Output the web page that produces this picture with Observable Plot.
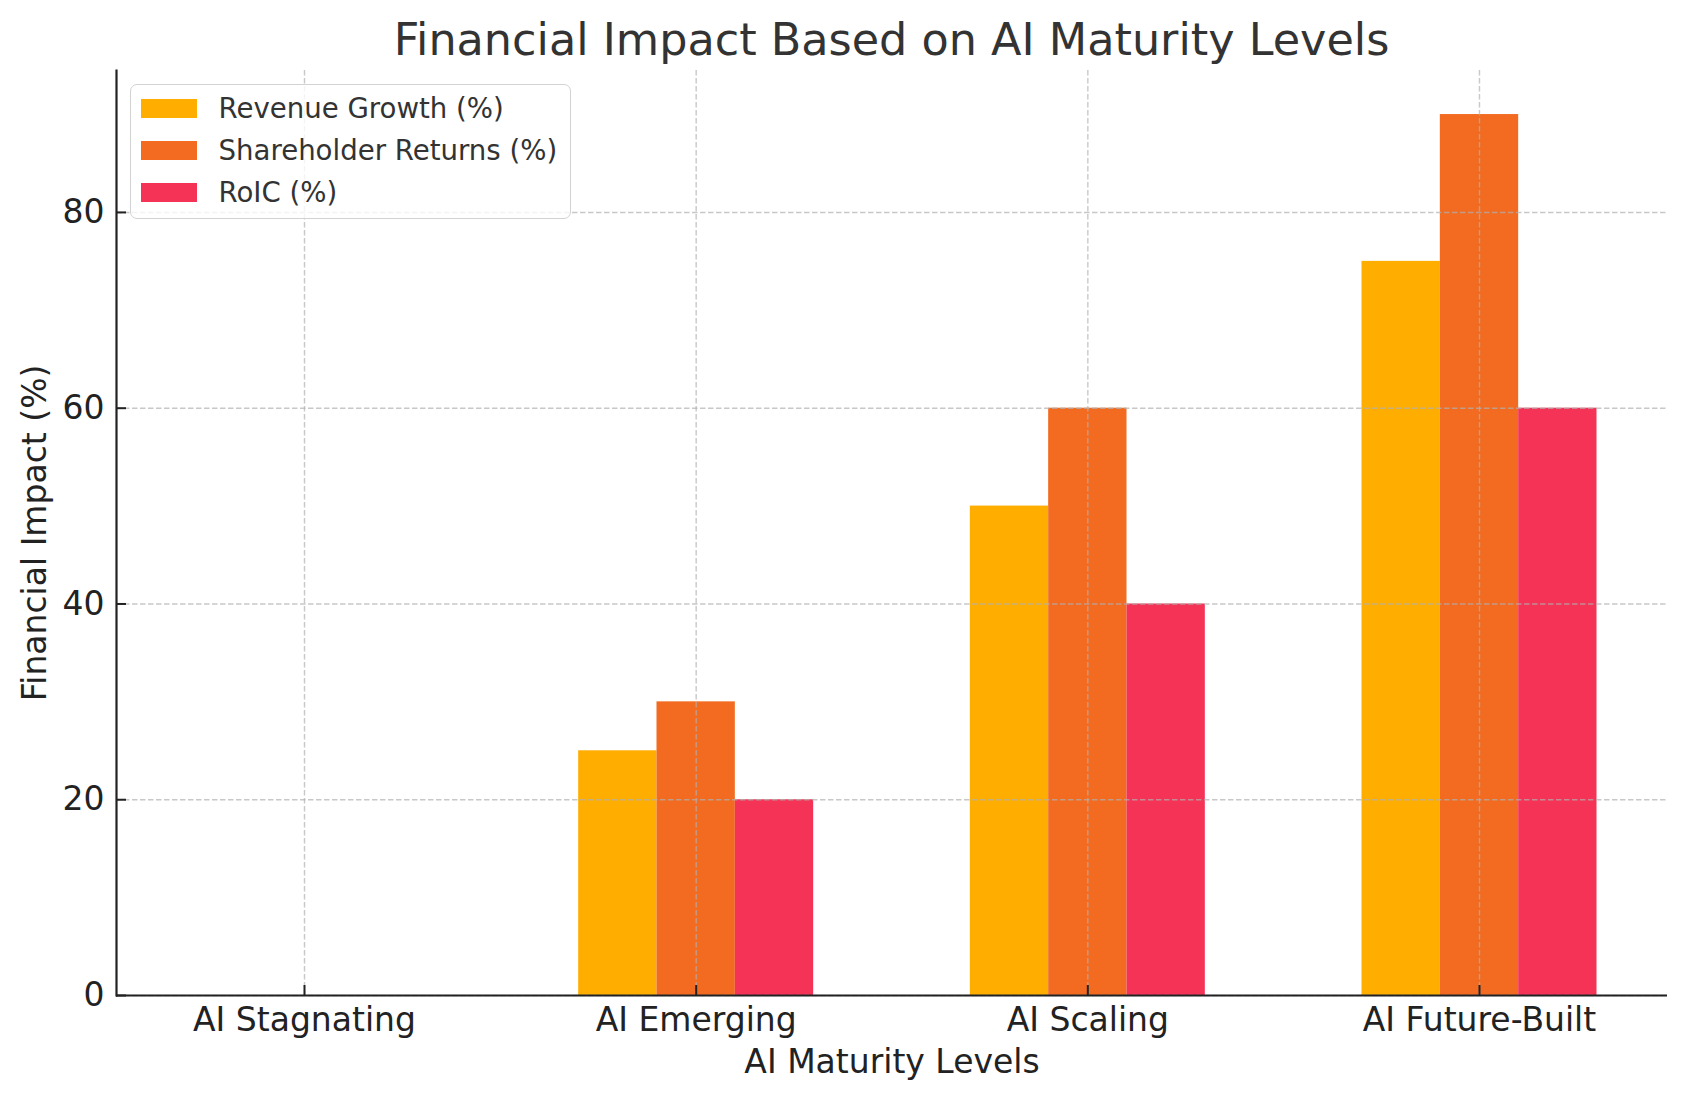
<!DOCTYPE html>
<html>
<head>
<meta charset="utf-8">
<script src="https://cdn.jsdelivr.net/npm/d3@7"></script>
<script src="https://cdn.jsdelivr.net/npm/@observablehq/plot@0.6"></script>
<style>
  body { margin: 0; background: #fff; font-family: "DejaVu Sans", sans-serif; }
  #wrap { position: relative; width: 1686px; height: 1101px; overflow: hidden; }
  #title { box-sizing: border-box; height: 60px; padding-top: 18px; padding-left: 116px; padding-right: 19px;
           line-height: 44px; font-size: 44.5px; color: #333; text-align: center; white-space: nowrap; overflow: visible; }
  #legend { position: absolute; left: 130px; top: 84px; width: 441px; height: 135px; box-sizing: border-box;
            border: 1.5px solid #d2d2d2; border-radius: 7px; background: rgba(255,255,255,0.8); }
  .item { position: absolute; left: 9.5px; height: 40px; display: flex; align-items: center; }
  .sw { width: 56px; height: 19px; flex: none; }
  .lab { margin-left: 22px; font-size: 27.6px; color: #333; white-space: nowrap; }
  svg { display: block; }
</style>
</head>
<body>
<div id="wrap">
  <div id="title"></div>
  <div id="chart"></div>
  <div id="legend"></div>
</div>
<script>
const chartTitle = "Financial Impact Based on AI Maturity Levels";
const xLabel = "AI Maturity Levels";
const yLabel = "Financial Impact (%)";
const categories = ["AI Stagnating", "AI Emerging", "AI Scaling", "AI Future-Built"];
const seriesNames = ["Revenue Growth (%)", "Shareholder Returns (%)", "RoIC (%)"];
const revenueGrowth = [0, 25, 50, 75];
const shareholderReturns = [0, 30, 60, 90];
const roic = [0, 20, 40, 60];
const seriesColors = ["#FFAE00", "#F26B21", "#F53357"];
const yTicks = [0, 20, 40, 60, 80];

const seriesValues = [revenueGrowth, shareholderReturns, roic];
const barWidth = 0.2;
const rows = [];
seriesValues.forEach((vals, j) => vals.forEach((v, i) =>
  rows.push({category: categories[i], ci: i, series: seriesNames[j], sj: j, value: v})));
const catIdx = categories.map((_, i) => i);

document.getElementById("title").textContent = chartTitle;

const gridStyle = {stroke: "#b0b0b0", strokeOpacity: 0.7, strokeWidth: 1.4, strokeDasharray: "5.5,2.5"};

const chart = Plot.plot({
  width: 1686, height: 1041,
  marginTop: 10, marginBottom: 106, marginLeft: 116, marginRight: 19,
  style: {fontFamily: "DejaVu Sans", color: "#222", background: "white", overflow: "visible"},
  x: {type: "linear", domain: [-0.48, 3.48]},
  y: {domain: [0, 94.5]},
  color: {domain: seriesNames, range: seriesColors},
  marks: [
    Plot.rectY(rows, {
      x1: d => d.ci + (d.sj - 1) * barWidth - barWidth / 2,
      x2: d => d.ci + (d.sj - 1) * barWidth + barWidth / 2,
      y1: 0, y2: "value", fill: "series"
    }),
    Plot.gridX({ticks: catIdx, ...gridStyle}),
    Plot.gridY({ticks: yTicks, ...gridStyle}),
    Plot.axisX({ticks: catIdx, tickFormat: i => categories[i], tickSize: -10, tickPadding: 22,
                fontSize: 33, label: null, strokeWidth: 2}),
    Plot.axisY({ticks: yTicks, tickSize: -10, tickPadding: 22, fontSize: 33, label: null, strokeWidth: 2}),
    Plot.ruleY([0], {stroke: "#222", strokeWidth: 2.2}),
    Plot.frame({anchor: "left", stroke: "#222", strokeWidth: 2.2}),
    Plot.text([xLabel], {frameAnchor: "bottom", dy: 67, lineAnchor: "middle", textAnchor: "middle",
                         text: d => d, fontSize: 33, fill: "#222"}),
    Plot.text([yLabel], {frameAnchor: "left", dx: -81, rotate: -90, lineAnchor: "middle", textAnchor: "middle",
                         text: d => d, fontSize: 33, fill: "#222"})
  ]
});
document.getElementById("chart").appendChild(chart);

const legend = document.getElementById("legend");
const centers = [23.5, 65.5, 107];
seriesNames.forEach((name, j) => {
  const item = document.createElement("div");
  item.className = "item";
  item.style.top = (centers[j] - 20) + "px";
  const sw = document.createElement("div");
  sw.className = "sw";
  sw.style.background = seriesColors[j];
  const lab = document.createElement("div");
  lab.className = "lab";
  lab.textContent = name;
  item.appendChild(sw); item.appendChild(lab);
  legend.appendChild(item);
});
</script>
</body>
</html>
